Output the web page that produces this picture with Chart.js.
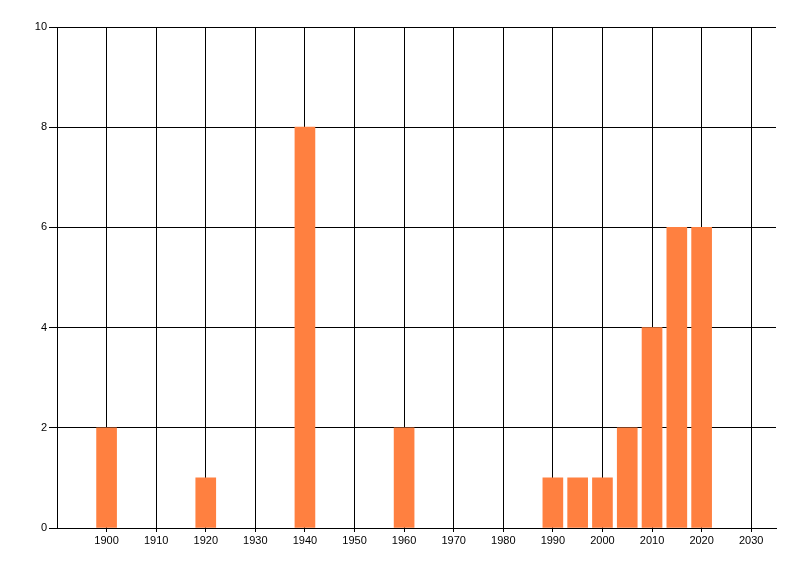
<!DOCTYPE html>
<html>
<head>
<meta charset="utf-8">
<script src="https://cdn.jsdelivr.net/npm/chart.js@4/dist/chart.umd.min.js"></script>
<style>
    html, body { margin: 0; padding: 0; background: #fff; }
    #wrap { width: 800px; height: 576px; }
</style>
</head>
<body>
<div id="wrap"><canvas id="chart" width="800" height="576"></canvas></div>
<script>
// --- data ---
const years = [1900, 1920, 1940, 1960, 1990, 1995, 2000, 2005, 2010, 2015, 2020];
const counts = [2, 1, 8, 2, 1, 1, 1, 2, 4, 6, 6];
const xTicks = [1890, 1900, 1910, 1920, 1930, 1940, 1950, 1960, 1970, 1980, 1990, 2000, 2010, 2020, 2030];
const yTicks = [0, 2, 4, 6, 8, 10];

const points = years.map((y, i) => ({ x: y, y: counts[i] }));
const font = { family: 'Liberation Sans, Arial, sans-serif', size: 11 };

new Chart(document.getElementById('chart'), {
    type: 'bar',
    data: {
        datasets: [{
            data: points,
            backgroundColor: 'rgb(255,128,64)',
            borderWidth: 0,
            barThickness: 20
        }]
    },
    options: {
        responsive: false,
        devicePixelRatio: 1,
        animation: false,
        layout: { padding: { top: 27, right: 24, left: 0, bottom: 0 } },
        plugins: { legend: { display: false }, tooltip: { enabled: false } },
        scales: {
            x: {
                type: 'linear',
                min: 1890,
                max: 2035,
                offset: false,
                afterBuildTicks: s => { s.ticks = xTicks.map(v => ({ value: v })); },
                afterFit: s => { s.height = 48; },
                grid: {
                    color: '#000',
                    lineWidth: 1,
                    tickLength: 4,
                    drawTicks: true,
                    offset: false,
                    // first tick sits on the axis corner, no mark there
                    tickColor: ctx => (ctx.tick && ctx.tick.value === xTicks[0] ? 'rgba(0,0,0,0)' : '#000')
                },
                border: { color: '#000', width: 1 },
                ticks: {
                    color: '#000',
                    font,
                    padding: 2,
                    maxRotation: 0,
                    autoSkip: false,
                    callback: v => (v === xTicks[0] ? '' : String(v))
                }
            },
            y: {
                min: 0,
                max: 10,
                afterBuildTicks: s => { s.ticks = yTicks.map(v => ({ value: v })); },
                afterFit: s => { s.width = 57; },
                grid: { color: '#000', lineWidth: 1, tickLength: 8, drawTicks: true },
                border: { color: '#000', width: 1 },
                ticks: { color: '#000', font, padding: 2 }
            }
        }
    }
});
</script>
</body>
</html>
